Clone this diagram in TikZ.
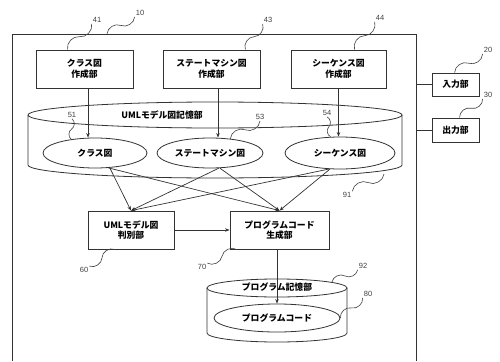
\documentclass[tikz,border=0pt]{standalone}
\usepackage{fontspec}
\setmainfont{Liberation Sans}
\newfontfamily\jp{Noto Sans CJK JP}
\usetikzlibrary{shapes.geometric,arrows.meta,calc}
\begin{document}
\begin{tikzpicture}[x=1pt,y=1pt,
  ln/.style={draw=black!80,line width=0.8pt},
  box/.style={ln,rectangle,inner sep=0pt,align=center,font=\jp\bfseries\fontsize{8.8}{10.5}\selectfont,fill=white},
  ell/.style={ln,ellipse,inner sep=0pt,font=\jp\bfseries\fontsize{8.8}{10.5}\selectfont,fill=white},
  txt/.style={inner sep=0pt,font=\jp\bfseries\fontsize{8.8}{10.5}\selectfont},
  num/.style={inner sep=1pt,font=\fontsize{7.5}{8}\selectfont,text=black!75},
  arr/.style={draw=black!80,line width=0.7pt,-{Stealth[length=4.5pt,width=3.5pt]}},
  leader/.style={draw=black!75,line width=0.6pt}
]
\useasboundingbox (0,0) rectangle (500,-361);
% outer box 10
\coordinate (oTL) at (12,-34);
\coordinate (oTR) at (416,-34);
\draw[ln] (12,-361) -- (oTL) -- (oTR) -- (416,-361);

% cylinder 91
\fill[white] (28,-115) -- (28,-165) arc[start angle=180,end angle=360,x radius=187,y radius=13] -- (402,-115) -- cycle;
\draw[ln] (28,-115) -- (28,-165) arc[start angle=180,end angle=360,x radius=187,y radius=13] -- (402,-115);
\draw[ln] (215,-115) ellipse[x radius=187,y radius=13];
\node[txt] (l91) at (162,-115) {UMLモデル図記憶部};

% cylinder 92
\draw[ln] (207,-288) -- (207,-333) arc[start angle=180,end angle=360,x radius=70,y radius=9] -- (347,-288);
\draw[ln] (277,-288) ellipse[x radius=70,y radius=9];
\node[txt] (l92) at (277,-287) {プログラム記憶部};

% boxes
\node[box,minimum width=97pt,minimum height=38pt] (b41) at (84.5,-69) {クラス図\\作成部};
\node[box,minimum width=97pt,minimum height=38pt] (b43) at (211.5,-69) {ステートマシン図\\作成部};
\node[box,minimum width=95pt,minimum height=38pt] (b44) at (338.5,-69) {シーケンス図\\作成部};
\node[box,minimum width=47pt,minimum height=23pt] (b20) at (455.5,-84.5) {入力部};
\node[box,minimum width=47pt,minimum height=24pt] (b30) at (455.5,-130) {出力部};
\node[box,minimum width=86pt,minimum height=38pt] (judge) at (131,-230) {UMLモデル図\\判別部};
\node[box,minimum width=99pt,minimum height=38pt] (gen) at (279.5,-230) {プログラムコード\\生成部};

% ellipses
\node[ell,minimum width=104pt,minimum height=30pt] (cls) at (95,-153) {クラス図};
\node[ell,minimum width=106pt,minimum height=30pt] (sm) at (210,-153) {ステートマシン図};
\node[ell,minimum width=110pt,minimum height=32pt] (sq) at (340,-153) {シーケンス図};
\node[ell,minimum width=126pt,minimum height=28pt] (code) at (277,-318) {プログラムコード};

% connectors
\draw[ln] (b20.west) -- (b20.west -| oTR);
\draw[ln] (b30.west) -- (b30.west -| oTR);
\coordinate (s41) at ($(b41.south)+(3.5,0)$);
\coordinate (s43) at ($(b43.south)+(6.5,0)$);
\draw[arr] (s41) -- (s41 |- cls.north);
\draw[arr] (s43) -- (s43 |- sm.north);
\draw[arr] (b44.south) -- (b44.south |- sq.north);
\draw[arr] (cls.-45) -- (judge.north);
\draw[arr] (cls.-48) -- (gen.north);
\draw[arr] (sm.-60) -- (judge.north);
\draw[arr] (sm.-57) -- (gen.north);
\draw[arr] (sq.-125) -- (judge.north);
\draw[arr] (sq.-122) -- (gen.north);
\draw[arr] (judge.east) -- (gen.west);
\draw[arr] (gen.south -| code.north) -- (code.north);

% numbers and leaders
\node[num] (n10) at (140,-13) {10};
\node[num] (n41) at (97,-20) {41};
\node[num] (n43) at (268,-20) {43};
\node[num] (n44) at (380,-18) {44};
\node[num] (n20) at (488,-50) {20};
\node[num] (n30) at (488,-95) {30};
\node[num] (n51) at (72,-115) {51};
\node[num] (n53) at (260,-117) {53};
\node[num] (n54) at (327,-113) {54};
\node[num] (n91) at (347,-195) {91};
\node[num] (n60) at (84,-270) {60};
\node[num] (n70) at (202,-267) {70};
\node[num] (n92) at (363,-266) {92};
\node[num] (n80) at (368,-294) {80};

\coordinate (a10) at (107,-34);
\coordinate (a41) at ($(b41.north west)+(32,0)$);
\coordinate (a43) at ($(b43.north east)+(-15,0)$);
\coordinate (a44) at ($(b44.north west)+(64,0)$);
\coordinate (a20) at ($(b20.north west)+(23,0)$);
\coordinate (a30) at ($(b30.north west)+(28,0)$);
\coordinate (a51) at (cls.150);
\coordinate (a53) at (sm.35);
\coordinate (a54) at (sq.120);
\coordinate (a91) at (384,-174);
\coordinate (a60) at ($(judge.south west)+(27,0)$);
\coordinate (a70) at ($(gen.south west)+(7,0)$);
\coordinate (a92) at (332,-282);
\coordinate (a80) at (code.east);
\foreach \a/\b in {a10/n10.south west, a41/n41.south west, a43/n43.south west, a44/n44.south west,
  a20/n20.south west, a30/n30.south west, a51/n51.south, a53/n53.south, a54/n54.south,
  a92/n92.south west, a80/n80.south west}
  \draw[leader] (\a) to[bend left=55] ($(\a)!0.5!(\b)$) to[bend right=55] (\b);
\foreach \a/\b in {a60/n60.north east, a70/n70.north east}
  \draw[leader] (\a) to[bend right=55] ($(\a)!0.5!(\b)$) to[bend left=55] (\b);
\draw[leader] (n91.north east) to[bend left=55] ($(n91.north east)!0.5!(a91)$) to[bend right=55] (a91);
\end{tikzpicture}
\end{document}
